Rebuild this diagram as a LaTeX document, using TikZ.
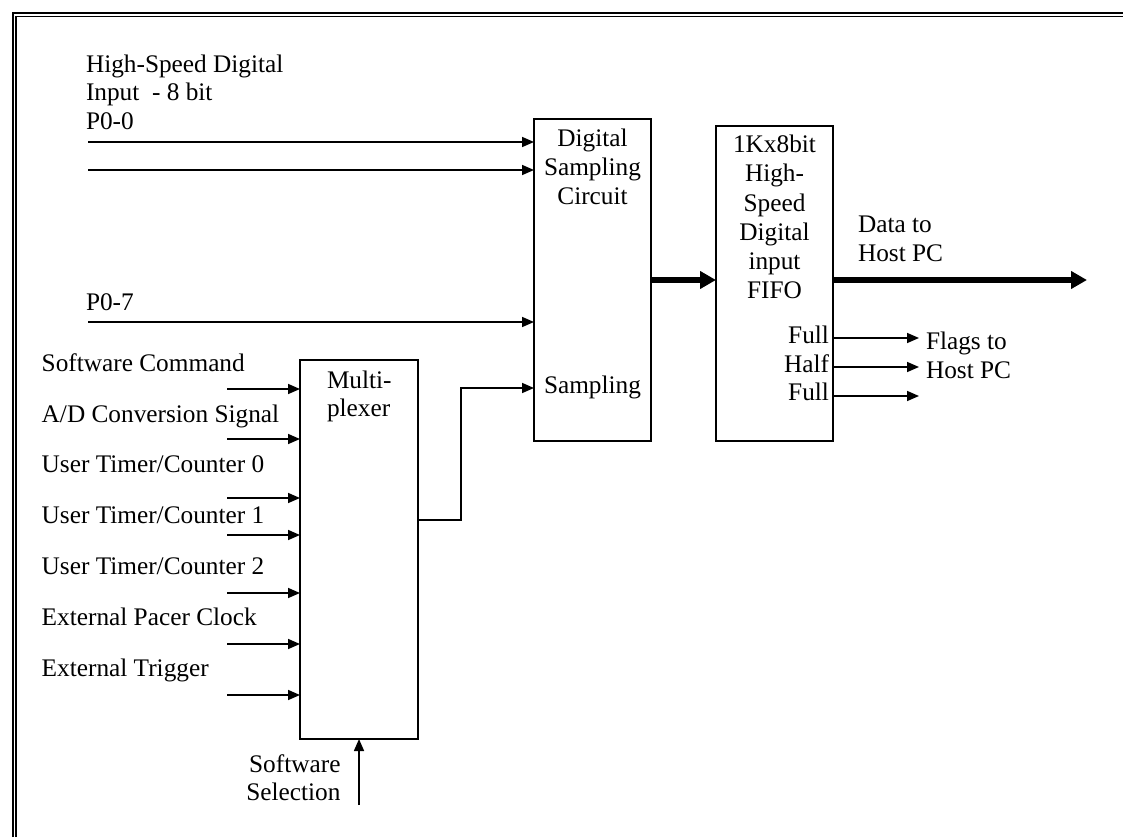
\documentclass[tikz,border=0pt]{standalone}
\usepackage{fontspec}
\setmainfont{Liberation Serif}
\usetikzlibrary{arrows.meta}
\begin{document}
\begin{tikzpicture}[x=1pt,y=-1pt,
  every node/.style={font=\fontsize{25.3}{29}\selectfont, inner sep=0pt, outer sep=0pt},
  block/.style={draw, line width=2pt, anchor=north west},
  sig/.style={line width=1.6pt, -{Triangle[length=12pt,width=10pt]}},
  bus/.style={line width=6pt, -{Triangle[length=16pt,width=17pt]}},
  frame/.style={line width=1.8pt},
  lbl/.style={anchor=base west},
  rlbl/.style={anchor=base east},
  clbl/.style={anchor=base}]
\useasboundingbox (0,0) rectangle (1123,837);

% double frame on the left and top
\draw[frame] (12.8,837) -- (12.8,13.2) -- (1123,13.2);
\draw[frame] (16.2,837) -- (16.2,16.6) -- (1123,16.6);

% blocks
\node[block, minimum width=117pt, minimum height=322pt] (dsc) at (534,119) {};
\node[block, minimum width=117pt, minimum height=315pt] (fifo) at (716,126) {};
\node[block, minimum width=118pt, minimum height=379pt] (mux) at (300,360) {};

% block captions
\node[clbl] (dsc1) at (592.5,146.7) {Digital};
\node[clbl] (dsc2) at (592.5,175.5) {Sampling};
\node[clbl] (dsc3) at (592.5,204.3) {Circuit};
\node[clbl] (dsc4) at (592.5,393.5) {Sampling};

\node[clbl] (ff1) at (774.5,153) {1Kx8bit};
\node[clbl] (ff2) at (774.5,182) {High-};
\node[clbl] (ff3) at (774.5,211) {Speed};
\node[clbl] (ff4) at (774.5,240) {Digital};
\node[clbl] (ff5) at (774.5,269) {input};
\node[clbl] (ff6) at (774.5,298) {FIFO};

\node[lbl] (mx1) at (327,388.5) {Multi-};
\node[lbl] (mx2) at (327,416.5) {plexer};

% high-speed digital inputs
\node[lbl] (hs1) at (86,72.5) {High-Speed Digital};
\node[lbl] (hs2) at (86,101) {Input\ \ - 8 bit};
\node[lbl] (hs3) at (86,129.5) {P0-0};
\node[lbl] (hs4) at (86,310) {P0-7};
\coordinate (p00) at (88,142);
\coordinate (p01) at (88,170);
\coordinate (p07) at (88,322);
\draw[sig] (p00) -- (p00 -| dsc.west);
\draw[sig] (p01) -- (p01 -| dsc.west);
\draw[sig] (p07) -- (p07 -| dsc.west);

% multiplexer sources
\node[lbl] (s1) at (41.7,371) {Software Command};
\node[lbl] (s2) at (41.7,422) {A/D Conversion Signal};
\node[lbl] (s3) at (41.7,472.5) {User Timer/Counter 0};
\node[lbl] (s4) at (41.7,523.5) {User Timer/Counter 1};
\node[lbl] (s5) at (41.7,574.5) {User Timer/Counter 2};
\node[lbl] (s6) at (41.7,625.5) {External Pacer Clock};
\node[lbl] (s7) at (41.7,676.5) {External Trigger};
\foreach \i/\y in {1/389,2/439,3/498,4/535,5/593,6/644,7/695}{
  \coordinate (src\i) at (227,\y);
  \draw[sig] (src\i) -- (src\i -| mux.west);
}

% software selection
\coordinate (sel) at (359,805);
\draw[sig] (sel) -- (sel |- mux.south);
\node[rlbl] (sel1) at (340.5,772) {Software};
\node[rlbl] (sel2) at (340.5,800) {Selection};

% multiplexer output to the sampling input
\coordinate (muxout) at (0,520);
\coordinate (jog) at (461,0);
\coordinate (sampin) at (0,388);
\draw[sig] (muxout -| mux.east) -- (muxout -| jog) |- (sampin -| dsc.west);

% data path
\coordinate (busy) at (0,280);
\coordinate (dataout) at (1087,280);
\draw[bus] (dsc.east |- busy) -- (fifo.west |- busy);
\draw[bus] (fifo.east |- busy) -- (dataout);
\node[lbl] (d1) at (858,232) {Data to};
\node[lbl] (d2) at (858,261) {Host PC};

% status flags
\node[rlbl] (fl1) at (829,343) {Full};
\node[rlbl] (fl2) at (829,372) {Half};
\node[rlbl] (fl3) at (829,400.5) {Full};
\foreach \i/\y in {1/338,2/367,3/396}{
  \coordinate (flag\i) at (919,\y);
  \draw[sig] (fifo.east |- flag\i) -- (flag\i);
}
\node[lbl] (ft1) at (926,349.5) {Flags to};
\node[lbl] (ft2) at (926,378.5) {Host PC};
\end{tikzpicture}
\end{document}
